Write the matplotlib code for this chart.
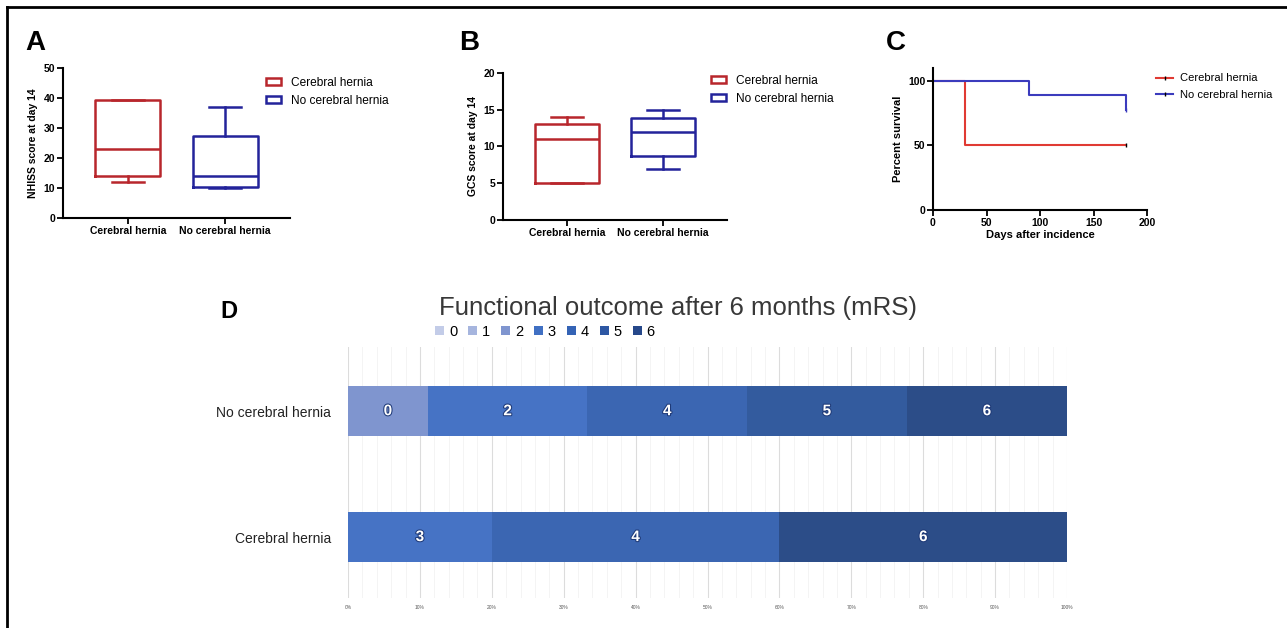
import matplotlib
matplotlib.use('Agg')
import matplotlib.pyplot as plt
import matplotlib.patheffects as pe
from matplotlib.patches import Patch
from matplotlib.lines import Line2D
import numpy as np

plt.rcParams['font.family'] = ['Liberation Sans', 'DejaVu Sans']

# ---- data ----
groups = ['Cerebral hernia', 'No cerebral hernia']

nihss_hernia = [12, 14, 23, 39.5, 39.5]
nihss_no_hernia = [10, 10.5, 14, 27.5, 37]
gcs_hernia = [5.1, 5.1, 11, 13, 14]
gcs_no_hernia = [7, 8.7, 12, 13.9, 15]

# Kaplan-Meier steps (panel C)
km_hernia_t = [0, 30, 180]
km_hernia_s = [100, 50, 50]
km_no_hernia_t = [0, 90, 180]
km_no_hernia_s = [100, 88.9, 77.8]

# mRS distribution in percent (panel D), scores 0..6
mrs_scores = ['0', '1', '2', '3', '4', '5', '6']
mrs_no_hernia = [11.1, 0, 22.2, 0, 22.2, 22.2, 22.3]
mrs_hernia = [0, 0, 0, 20, 40, 0, 40]
pct_ticks = [0, 10, 20, 30, 40, 50, 60, 70, 80, 90, 100]

RED = '#b8262c'
BLUE = '#23239a'
KM_RED = '#e03a33'
KM_BLUE = '#3b3bbd'
bar_colors = ['#7f95cf', '#a0b2de', '#4673c5', '#4673c5', '#3b66b2', '#335b9e', '#2c4d88']
leg_colors = ['#c3cce8', '#a6b5de', '#7f95cf', '#4070c3', '#3463b5', '#2d57a3', '#26488a']

W, H = 1287, 628
fig = plt.figure(figsize=(W / 100, H / 100), dpi=100)


def px_axes(x0, y0, x1, y1):
    return fig.add_axes([x0 / W, 1 - y1 / H, (x1 - x0) / W, (y1 - y0) / H])


def stats(v):
    return dict(whislo=v[0], q1=v[1], med=v[2], q3=v[3], whishi=v[4], fliers=[])


def gp_style(ax, size=7.5):
    for s in ['top', 'right']:
        ax.spines[s].set_visible(False)
    for s in ['left', 'bottom']:
        ax.spines[s].set_linewidth(1.5)
    ax.tick_params(width=1.3, length=4, labelsize=size, pad=1.5)
    for lab in ax.get_xticklabels() + ax.get_yticklabels():
        lab.set_fontweight('bold')


def box_panel(ax, s1, s2, ylim, yticks, ylabel):
    for st, pos, col in [(s1, 1, RED), (s2, 2, BLUE)]:
        props = dict(color=col, linewidth=1.8)
        ax.bxp([stats(st)], positions=[pos], widths=0.67, showfliers=False,
               boxprops=props, whiskerprops=props, capprops=props,
               medianprops=props, manage_ticks=False)
    ax.set_xlim(0.33, 2.67)
    ax.set_ylim(*ylim)
    ax.set_yticks(yticks)
    ax.set_xticks([1, 2])
    ax.set_xticklabels(groups)
    ax.set_ylabel(ylabel, fontsize=7.5, fontweight='bold', labelpad=4)
    gp_style(ax)


# ---- panel A ----
axA = px_axes(63, 68, 290, 218)
box_panel(axA, nihss_hernia, nihss_no_hernia, (0, 50), [0, 10, 20, 30, 40, 50],
          'NHISS score at day 14')
hA = [Patch(facecolor='white', edgecolor=RED, linewidth=1.8),
      Patch(facecolor='white', edgecolor=BLUE, linewidth=1.8)]
fig.legend(hA, groups, loc='upper left', bbox_to_anchor=(261 / W, 1 - 72 / H),
           frameon=False, fontsize=8.6, handlelength=1.3, handleheight=0.6,
           labelspacing=0.5, handletextpad=0.8, borderaxespad=0)
fig.text(25 / W, 1 - 50 / H, 'A', fontsize=20, fontweight='bold')

# ---- panel B ----
axB = px_axes(503, 73, 727, 220)
box_panel(axB, gcs_hernia, gcs_no_hernia, (0, 20), [0, 5, 10, 15, 20],
          'GCS score at day 14')
fig.legend(hA, groups, loc='upper left', bbox_to_anchor=(706 / W, 1 - 70 / H),
           frameon=False, fontsize=8.6, handlelength=1.3, handleheight=0.6,
           labelspacing=0.5, handletextpad=0.8, borderaxespad=0)
fig.text(459 / W, 1 - 50 / H, 'B', fontsize=20, fontweight='bold')

# ---- panel C ----
axC = px_axes(933, 68, 1147, 210)
axC.plot(km_hernia_t, km_hernia_s, drawstyle='steps-post', color=KM_RED, lw=1.5)
axC.plot(km_no_hernia_t, km_no_hernia_s, drawstyle='steps-post', color=KM_BLUE, lw=1.5)
axC.plot(km_hernia_t[-1], km_hernia_s[-1], marker='|', color='black', ms=3, mew=1)
axC.plot(km_no_hernia_t[-1], km_no_hernia_s[-1], marker='|', color=KM_BLUE, ms=3, mew=1)
axC.set_xlim(0, 200)
axC.set_ylim(0, 110)
axC.set_xticks([0, 50, 100, 150, 200])
axC.set_yticks([0, 50, 100])
axC.set_xlabel('Days after incidence', fontsize=8, fontweight='bold', labelpad=2)
axC.set_ylabel('Percent survival', fontsize=8, fontweight='bold', labelpad=4)
gp_style(axC)
hC = [Line2D([], [], color=KM_RED, lw=1.5, marker='|', ms=3, mec='black'),
      Line2D([], [], color=KM_BLUE, lw=1.5, marker='|', ms=3, mec='black')]
fig.legend(hC, groups, loc='upper left', bbox_to_anchor=(1152 / W, 1 - 69 / H),
           frameon=False, fontsize=8, handlelength=1.5, labelspacing=0.6,
           handletextpad=0.6, borderaxespad=0)
fig.text(886 / W, 1 - 50 / H, 'C', fontsize=20, fontweight='bold')

# ---- panel D ----
axD = px_axes(348, 347, 1067, 598)
ypos = np.array([0, 1])
data = np.array([mrs_hernia, mrs_no_hernia])
left = np.zeros(2)
for i, sc in enumerate(mrs_scores):
    w = data[:, i]
    axD.barh(ypos, w, left=left, height=0.4, color=bar_colors[i], edgecolor='none', zorder=3)
    for j in range(2):
        if w[j] > 0:
            axD.text(left[j] + w[j] / 2, ypos[j], sc, ha='center', va='center',
                     color='white', fontsize=11, fontweight='bold', zorder=4,
                     path_effects=[pe.withStroke(linewidth=1.5, foreground='#1f3a78')])
    left += w
axD.set_xlim(0, 100)
axD.set_ylim(-0.484, 1.51)
axD.set_yticks(ypos)
axD.set_yticklabels(groups, fontsize=10, color='#222222')
axD.set_xticks(pct_ticks)
axD.set_xticklabels([f'{t}%' for t in pct_ticks], fontsize=3.5, color='#555555')
axD.set_xticks(np.arange(0, 101, 2), minor=True)
axD.grid(axis='x', which='major', color='#dcdcdc', lw=0.8, zorder=0)
axD.grid(axis='x', which='minor', color='#f2f2f2', lw=0.6, zorder=0)
axD.tick_params(axis='both', which='both', length=0)
axD.tick_params(axis='y', pad=12)
axD.tick_params(axis='x', pad=5)
for s in axD.spines.values():
    s.set_visible(False)
fig.text(678 / W, 1 - 308 / H, 'Functional outcome after 6 months (mRS)',
         ha='center', va='center', fontsize=18.5, color='#383838')
hD = [Patch(facecolor=c, edgecolor='none') for c in leg_colors]
fig.legend(hD, mrs_scores, loc='center', bbox_to_anchor=(545 / W, 1 - 332 / H),
           ncol=7, frameon=False, fontsize=10.5, handlelength=0.6, handleheight=0.6,
           handletextpad=0.35, columnspacing=0.75, borderaxespad=0)
fig.text(220 / W, 1 - 311 / H, 'D', fontsize=17, fontweight='bold', va='center')

# outer frame (top and left edges)
fig.add_artist(Line2D([7 / W, 1], [1 - 7 / H, 1 - 7 / H], color='black', lw=2))
fig.add_artist(Line2D([7 / W, 7 / W], [0, 1 - 7 / H], color='black', lw=2))

fig.savefig('out.png', dpi=100)
